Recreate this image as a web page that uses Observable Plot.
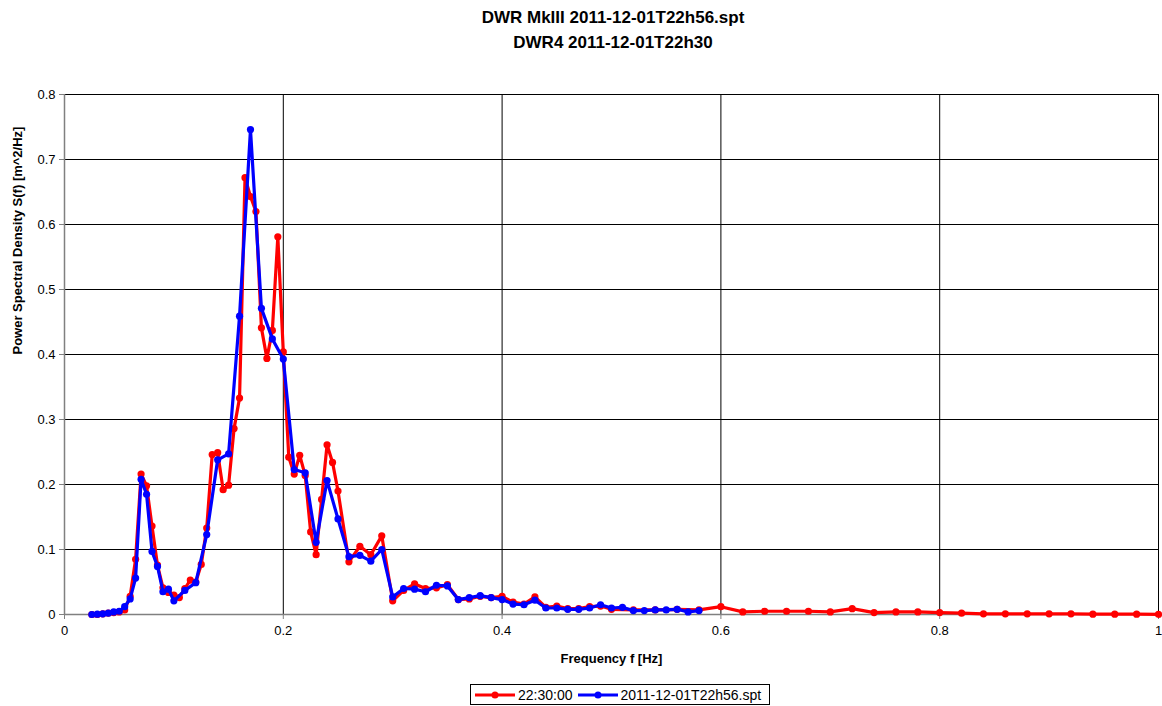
<!DOCTYPE html>
<html>
<head>
<meta charset="utf-8">
<script src="https://cdn.jsdelivr.net/npm/d3@7"></script>
<script src="https://cdn.jsdelivr.net/npm/@observablehq/plot@0.6"></script>
<style>
  body { margin: 0; background: #fff; font-family: "Liberation Sans", Arial, sans-serif; }
  #title { height: 60px; box-sizing: border-box; padding-top: 5px; padding-left: 64px; width: 1162px;
           text-align: center; font-weight: bold; font-size: 17px; line-height: 25px; color: #000; }
  #legend { position: absolute; left: 470px; top: 684px; width: 300px; height: 21px; border: 1px solid #000;
            font-size: 14px; display: flex; align-items: center; padding-left: 3px; box-sizing: border-box;
            white-space: nowrap; overflow: visible; }
  #legend span { display: inline-flex; align-items: center; gap: 2px; margin-right: 4px; white-space: nowrap; }
</style>
</head>
<body>
<div id="title"></div>
<div id="chart"></div>
<div id="legend"></div>
<script>
const titleLines = ["DWR MkIII 2011-12-01T22h56.spt", "DWR4 2011-12-01T22h30"];
const seriesNames = ["22:30:00", "2011-12-01T22h56.spt"];
const xLabel = "Frequency f [Hz]";
const yLabel = "Power Spectral Density S(f) [m^2/Hz]";
const yTicks = [0, 0.1, 0.2, 0.3, 0.4, 0.5, 0.6, 0.7, 0.8];
const xTicks = [0, 0.2, 0.4, 0.6, 0.8, 1];

// DWR4 (red) series
const freqRed = [
  0.025, 0.03, 0.035, 0.04, 0.045, 0.05, 0.055, 0.06, 0.065, 0.07,
  0.075, 0.08, 0.085, 0.09, 0.095, 0.1, 0.105, 0.11, 0.115, 0.12,
  0.125, 0.13, 0.135, 0.14, 0.145, 0.15, 0.155, 0.16, 0.165, 0.17,
  0.175, 0.18, 0.185, 0.19, 0.195, 0.2, 0.205, 0.21, 0.215, 0.22,
  0.225, 0.23, 0.235, 0.24, 0.245, 0.25,
  0.26, 0.27, 0.28, 0.29, 0.30, 0.31, 0.32, 0.33, 0.34, 0.35,
  0.36, 0.37, 0.38, 0.39, 0.40, 0.41, 0.42, 0.43, 0.44, 0.45,
  0.46, 0.47, 0.48, 0.49, 0.50,
  0.52, 0.54, 0.56, 0.58, 0.60, 0.62, 0.64, 0.66, 0.68, 0.70,
  0.72, 0.74, 0.76, 0.78, 0.80, 0.82, 0.84, 0.86, 0.88, 0.90,
  0.92, 0.94, 0.96, 0.98, 1.00
];
const psdRed = [
  0, 0, 0.001, 0.002, 0.003, 0.004, 0.007, 0.028, 0.085, 0.216,
  0.198, 0.136, 0.076, 0.041, 0.034, 0.030, 0.026, 0.040, 0.053, 0.050,
  0.077, 0.133, 0.246, 0.249, 0.192, 0.199, 0.286, 0.333, 0.672, 0.643,
  0.620, 0.441, 0.394, 0.437, 0.581, 0.404, 0.242, 0.216, 0.245, 0.214,
  0.127, 0.092, 0.177, 0.261, 0.234, 0.190,
  0.081, 0.105, 0.092, 0.121, 0.021, 0.037, 0.047, 0.040, 0.041, 0.046,
  0.023, 0.024, 0.028, 0.026, 0.028, 0.019, 0.016, 0.027, 0.011, 0.013,
  0.009, 0.009, 0.012, 0.013, 0.008,
  0.007, 0.007, 0.008, 0.007, 0.012, 0.004, 0.005, 0.005, 0.005, 0.004,
  0.009, 0.003, 0.004, 0.004, 0.003, 0.002, 0.001, 0.001, 0.001, 0.001,
  0.001, 0.0005, 0.0005, 0.0005, 0.0003
];

// DWR MkIII (blue) series
const freqBlue = [
  0.025, 0.03, 0.035, 0.04, 0.045, 0.05, 0.055, 0.06, 0.065, 0.07,
  0.075, 0.08, 0.085, 0.09, 0.095, 0.1,
  0.11, 0.12, 0.13, 0.14, 0.15, 0.16, 0.17, 0.18, 0.19, 0.20,
  0.21, 0.22, 0.23, 0.24, 0.25, 0.26, 0.27, 0.28, 0.29, 0.30,
  0.31, 0.32, 0.33, 0.34, 0.35, 0.36, 0.37, 0.38, 0.39, 0.40,
  0.41, 0.42, 0.43, 0.44, 0.45, 0.46, 0.47, 0.48, 0.49, 0.50,
  0.51, 0.52, 0.53, 0.54, 0.55, 0.56, 0.57, 0.58
];
const psdBlue = [
  0, 0.0005, 0.001, 0.002, 0.004, 0.005, 0.012, 0.024, 0.056, 0.208,
  0.185, 0.097, 0.074, 0.035, 0.039, 0.021,
  0.037, 0.049, 0.123, 0.238, 0.247, 0.459, 0.746, 0.471, 0.424, 0.393,
  0.223, 0.218, 0.111, 0.206, 0.147, 0.089, 0.091, 0.082, 0.100, 0.027,
  0.040, 0.039, 0.035, 0.045, 0.044, 0.023, 0.026, 0.029, 0.026, 0.023,
  0.016, 0.015, 0.022, 0.010, 0.010, 0.008, 0.008, 0.010, 0.015, 0.010,
  0.011, 0.006, 0.006, 0.007, 0.007, 0.008, 0.004, 0.006
];
const colors = ["#ff0000", "#0000ff"];

const red = freqRed.map((f, i) => ({f, v: psdRed[i]}));
const blue = freqBlue.map((f, i) => ({f, v: psdBlue[i]}));
const fmt = d => String(+(+d).toFixed(1));

const chart = Plot.plot({
  width: 1162,
  height: 620,
  marginTop: 34,
  marginBottom: 66,
  marginLeft: 64,
  marginRight: 4,
  style: {fontFamily: "'Liberation Sans', Arial, sans-serif", fontSize: "13px", color: "#000", background: "#fff"},
  x: {domain: [0, 1]},
  y: {domain: [0, 0.8]},
  marks: [
    Plot.gridY(yTicks, {stroke: "#000", strokeOpacity: 1, strokeWidth: 1}),
    Plot.gridX(xTicks.slice(1), {stroke: "#000", strokeOpacity: 1, strokeWidth: 1}),
    Plot.ruleX([0], {stroke: "#808080", strokeWidth: 1.5}),
    Plot.ruleY([0], {stroke: "#808080", strokeWidth: 1.5}),
    Plot.axisY(yTicks, {tickFormat: fmt, tickSize: 5, tickPadding: 4, label: null, fontSize: 13, stroke: "#808080"}),
    Plot.axisX(xTicks, {tickFormat: fmt, tickSize: 5, tickPadding: 6, label: null, fontSize: 13, stroke: "#808080"}),
    Plot.line(red, {x: "f", y: "v", stroke: colors[0], strokeWidth: 3.2}),
    Plot.dot(red, {x: "f", y: "v", fill: colors[0], r: 3.6}),
    Plot.line(blue, {x: "f", y: "v", stroke: colors[1], strokeWidth: 3.2}),
    Plot.dot(blue, {x: "f", y: "v", fill: colors[1], r: 3.6}),
    Plot.text([xLabel], {frameAnchor: "bottom", dy: 48, fontWeight: "bold", fontSize: 13, fill: "#000"}),
    Plot.text([yLabel], {frameAnchor: "left", dx: -47, rotate: -90, fontWeight: "bold", fontSize: 13, fill: "#000"})
  ]
});
document.getElementById("chart").appendChild(chart);

document.getElementById("title").innerHTML = titleLines.join("<br>");

const legend = document.getElementById("legend");
seriesNames.forEach((name, i) => {
  const s = document.createElement("span");
  s.innerHTML = `<svg width="42" height="10"><line x1="1" y1="5" x2="41" y2="5" stroke="${colors[i]}" stroke-width="3"/><circle cx="21" cy="5" r="3.5" fill="${colors[i]}"/></svg>${name}`;
  legend.appendChild(s);
});
</script>
</body>
</html>
